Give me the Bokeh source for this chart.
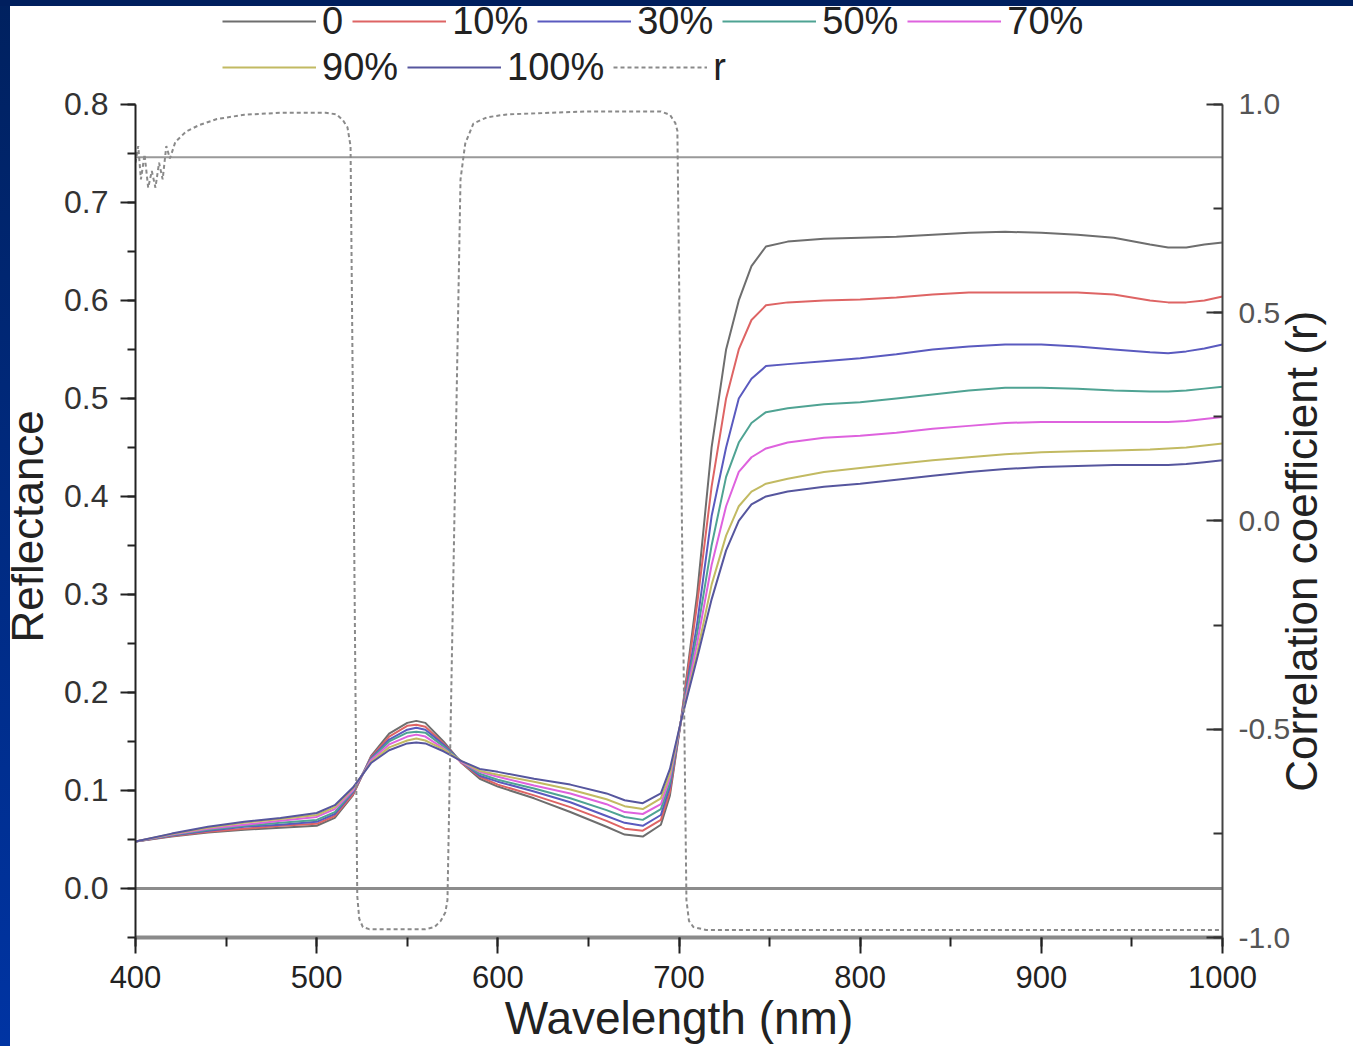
import math
from bokeh.plotting import figure
from bokeh.models import (Range1d, LinearAxis, SingleIntervalTicker, FixedTicker, PrintfTickFormatter,
                          Span, Legend, LegendItem, GlobalInlineStyleSheet)
from bokeh.embed import file_html
from bokeh.resources import INLINE

# ---------------- data ----------------
wavelength = [400, 420, 440, 460, 480, 500, 510, 520, 530, 540, 550, 555, 560, 570, 580, 590,
              600, 620, 640, 660, 670, 680, 690, 695, 701, 710, 718, 726, 733, 740, 748, 760,
              780, 800, 820, 840, 860, 880, 900, 920, 940, 960, 970, 980, 990, 1000]

refl_0 = [0.048, 0.053, 0.057, 0.060, 0.062, 0.064, 0.072, 0.095, 0.135, 0.158, 0.169,
          0.171, 0.169, 0.150, 0.128, 0.112, 0.104, 0.092, 0.078, 0.063, 0.055,
          0.053, 0.065, 0.095, 0.170, 0.300, 0.450, 0.550, 0.600, 0.635, 0.655,
          0.660, 0.663, 0.664, 0.665, 0.667, 0.669, 0.670, 0.669, 0.667, 0.664,
          0.657, 0.654, 0.654, 0.657, 0.659]
refl_10 = [0.048, 0.0535, 0.058, 0.061, 0.064, 0.066, 0.074, 0.096, 0.134, 0.155, 0.166,
           0.167, 0.165, 0.148, 0.128, 0.114, 0.106, 0.095, 0.083, 0.069, 0.061,
           0.059, 0.070, 0.099, 0.170, 0.290, 0.410, 0.500, 0.550, 0.580, 0.595,
           0.598, 0.600, 0.601, 0.603, 0.606, 0.608, 0.608, 0.608, 0.608, 0.606,
           0.600, 0.598, 0.598, 0.600, 0.604]
refl_30 = [0.048, 0.054, 0.059, 0.063, 0.065, 0.068, 0.076, 0.098, 0.133, 0.152, 0.162,
           0.164, 0.162, 0.147, 0.129, 0.115, 0.109, 0.099, 0.088, 0.074, 0.067,
           0.064, 0.075, 0.104, 0.170, 0.270, 0.380, 0.450, 0.500, 0.520, 0.533,
           0.535, 0.538, 0.541, 0.545, 0.550, 0.553, 0.555, 0.555, 0.553, 0.550,
           0.547, 0.546, 0.548, 0.551, 0.555]
refl_50 = [0.048, 0.0545, 0.060, 0.064, 0.067, 0.070, 0.078, 0.099, 0.132, 0.150, 0.159,
           0.160, 0.159, 0.145, 0.129, 0.117, 0.111, 0.102, 0.092, 0.080, 0.073,
           0.070, 0.081, 0.108, 0.170, 0.260, 0.350, 0.420, 0.455, 0.475, 0.486,
           0.490, 0.494, 0.496, 0.500, 0.504, 0.508, 0.511, 0.511, 0.510, 0.508,
           0.507, 0.507, 0.508, 0.510, 0.512]
refl_70 = [0.048, 0.055, 0.061, 0.065, 0.069, 0.073, 0.081, 0.100, 0.131, 0.147, 0.155,
           0.157, 0.155, 0.143, 0.129, 0.119, 0.114, 0.105, 0.097, 0.086, 0.078,
           0.076, 0.086, 0.113, 0.170, 0.250, 0.330, 0.390, 0.425, 0.440, 0.449,
           0.455, 0.460, 0.462, 0.465, 0.469, 0.472, 0.475, 0.476, 0.476, 0.476,
           0.476, 0.476, 0.477, 0.479, 0.481]
refl_90 = [0.048, 0.0555, 0.062, 0.067, 0.071, 0.075, 0.083, 0.102, 0.129, 0.144, 0.151,
           0.153, 0.151, 0.142, 0.130, 0.120, 0.116, 0.109, 0.101, 0.091, 0.084,
           0.081, 0.092, 0.117, 0.170, 0.240, 0.310, 0.360, 0.390, 0.405, 0.413,
           0.418, 0.425, 0.429, 0.433, 0.437, 0.440, 0.443, 0.445, 0.446, 0.447,
           0.448, 0.449, 0.450, 0.452, 0.454]
refl_100 = [0.048, 0.056, 0.063, 0.068, 0.072, 0.077, 0.085, 0.103, 0.128, 0.141, 0.148,
            0.149, 0.148, 0.140, 0.130, 0.122, 0.119, 0.112, 0.106, 0.097, 0.090,
            0.087, 0.097, 0.122, 0.170, 0.235, 0.295, 0.345, 0.375, 0.392, 0.400,
            0.405, 0.410, 0.413, 0.417, 0.421, 0.425, 0.428, 0.430, 0.431, 0.432,
            0.432, 0.432, 0.433, 0.435, 0.437]

series_labels = ["0", "10%", "30%", "50%", "70%", "90%", "100%"]
series_values = [refl_0, refl_10, refl_30, refl_50, refl_70, refl_90, refl_100]
series_colors = ["#6e6e6e", "#de6464", "#5a5abf", "#4fa393", "#de62de", "#c2ba62", "#56569e"]

r_wavelength = [400, 401.5, 403, 405, 407, 409, 411, 413, 415, 417,
                419, 422, 428, 435, 445, 460, 480, 505, 511, 514.5,
                517, 518.7, 520.6, 522.4, 523.5, 525.5, 529, 560, 565, 568.5,
                571, 572.2, 574, 576, 578, 579.4, 582, 586.5, 594, 605,
                650, 690, 695, 698, 699.1, 701.6, 704.1, 705.5, 708, 715, 1000]
r_values = [0.86, 0.90, 0.82, 0.88, 0.80, 0.84, 0.80, 0.86, 0.82, 0.90,
            0.87, 0.91, 0.935, 0.95, 0.965, 0.975, 0.98, 0.98, 0.976, 0.962,
            0.945, 0.90, 0.0, -0.90, -0.955, -0.975, -0.98, -0.98, -0.975, -0.96,
            -0.94, -0.91, -0.48, 0.0, 0.48, 0.82, 0.906, 0.954, 0.969, 0.976,
            0.983, 0.983, 0.975, 0.955, 0.937, 0.0, -0.91, -0.96, -0.975, -0.982, -0.982]
r_label = "r"
r_threshold = 0.873
reflectance_zero = 0.0

x_title = "Wavelength (nm)"
y_title = "Reflectance"
r_title = "Correlation coefficient (r)"

# axis extents (the plotting frame also holds the legend strip above the axes)
refl_bounds = (-0.05, 0.8)
r_bounds = (-1.0, 1.0)
refl_view = (-0.05, 0.906)
r_view = (-1.0, 1.2494)
y_title_center = [0.3695]
r_title_start = [-0.65]

FONT = "Liberation Sans"

# ---------------- figure ----------------
p = figure(width=1353, height=1046, output_backend="svg", toolbar_location=None,
           x_range=Range1d(400, 1000), y_range=Range1d(*refl_view),
           min_border_left=135, min_border_right=131, min_border_top=0, min_border_bottom=108,
           x_axis_label=x_title)
p.extra_y_ranges = {"r": Range1d(*r_view)}
p.grid.visible = False
p.outline_line_color = None
p.background_fill_alpha = 0.0
p.border_fill_alpha = 0.0
p.stylesheets = [GlobalInlineStyleSheet(css="""
html {
  background:
    linear-gradient(#001f5e, #001f5e) 0 0 / 100% 6px no-repeat,
    linear-gradient(#00215f, #0034a3) 0 0 / 10px 100% no-repeat,
    #ffffff;
  min-height: 100%;
}
""")]

# left axis (numbers)
ya = p.yaxis[0]
ya.bounds = refl_bounds
ya.ticker = SingleIntervalTicker(interval=0.1, num_minor_ticks=2)
ya.formatter = PrintfTickFormatter(format="%.1f")
ya.axis_line_color = "#222222"
ya.axis_line_width = 2
ya.major_tick_line_color = "#222222"
ya.major_tick_line_width = 2
ya.minor_tick_line_color = "#222222"
ya.minor_tick_line_width = 2
ya.major_tick_out = 15
ya.major_tick_in = 0
ya.minor_tick_out = 8
ya.minor_tick_in = 0
ya.major_label_standoff = 12
ya.major_label_text_font = FONT
ya.major_label_text_font_size = "32px"
ya.major_label_text_color = "#333333"

# left axis title
lt = LinearAxis(ticker=FixedTicker(ticks=y_title_center),
                formatter=PrintfTickFormatter(format=y_title))
lt.axis_line_color = None
lt.major_tick_line_color = None
lt.minor_tick_line_color = None
lt.major_tick_in = 0
lt.major_tick_out = 0
lt.minor_tick_in = 0
lt.minor_tick_out = 0
lt.major_label_orientation = "parallel"
lt.major_label_standoff = 9
lt.major_label_text_font = FONT
lt.major_label_text_font_size = "44px"
lt.major_label_text_color = "#222222"
p.add_layout(lt, "left")

# bottom axis
xa = p.xaxis[0]
xa.ticker = SingleIntervalTicker(interval=100, num_minor_ticks=2)
xa.axis_line_color = "#8a8a8a"
xa.axis_line_width = 4
xa.major_tick_line_color = "#222222"
xa.major_tick_line_width = 2
xa.minor_tick_line_color = "#222222"
xa.minor_tick_line_width = 2
xa.major_tick_out = 16
xa.major_tick_in = 0
xa.minor_tick_out = 9
xa.minor_tick_in = 0
xa.major_label_standoff = 12
xa.major_label_text_font = FONT
xa.major_label_text_font_size = "31px"
xa.major_label_text_color = "#222222"
xa.axis_label_standoff = 1
xa.axis_label_text_font = FONT
xa.axis_label_text_font_size = "46px"
xa.axis_label_text_font_style = "normal"
xa.axis_label_text_color = "#222222"

# right axis (numbers)
ra = LinearAxis(y_range_name="r", bounds=r_bounds,
                ticker=SingleIntervalTicker(interval=0.5, num_minor_ticks=2),
                formatter=PrintfTickFormatter(format="%.1f"))
ra.axis_line_color = "#444444"
ra.axis_line_width = 2
ra.major_tick_line_color = "#333333"
ra.major_tick_line_width = 2
ra.minor_tick_line_color = "#333333"
ra.minor_tick_line_width = 2
ra.major_tick_in = 16
ra.major_tick_out = 0
ra.minor_tick_in = 9
ra.minor_tick_out = 0
ra.major_label_standoff = 16
ra.major_label_text_font = FONT
ra.major_label_text_font_size = "30px"
ra.major_label_text_color = "#555555"
p.add_layout(ra, "right")

# right axis title, reading bottom-to-top
rt = LinearAxis(y_range_name="r", ticker=FixedTicker(ticks=r_title_start),
                formatter=PrintfTickFormatter(format=r_title))
rt.axis_line_color = None
rt.major_tick_line_color = None
rt.minor_tick_line_color = None
rt.major_tick_in = 0
rt.major_tick_out = 0
rt.minor_tick_in = 0
rt.minor_tick_out = 0
rt.major_label_orientation = math.pi / 2
rt.major_label_standoff = 8
rt.major_label_text_font = FONT
rt.major_label_text_font_size = "44px"
rt.major_label_text_color = "#222222"
p.add_layout(rt, "right")

# reference lines
p.add_layout(Span(location=reflectance_zero, dimension="width", line_color="#8c8c8c",
                  line_width=3, level="underlay"))
p.add_layout(Span(location=r_threshold, dimension="width", y_range_name="r",
                  line_color="#999999", line_width=2, level="underlay"))

# spectra
renderers = []
for lab, vals, col in zip(series_labels, series_values, series_colors):
    renderers.append(p.line(wavelength, vals, line_color=col, line_width=2))

r_renderer = p.line(r_wavelength, r_values, y_range_name="r", line_color="#8a8a8a",
                    line_width=2, line_dash="4 3")

# legends (two rows, in the strip above the axes)
def make_legend(items, loc):
    lg = Legend(items=items, location=loc, orientation="horizontal")
    lg.padding = 0
    lg.margin = 0
    lg.spacing = 9
    lg.glyph_width = 94
    lg.glyph_height = 44
    lg.label_height = 44
    lg.label_standoff = 6
    lg.label_text_font = FONT
    lg.label_text_font_size = "38px"
    lg.label_text_color = "#222222"
    lg.background_fill_alpha = 0
    lg.border_line_alpha = 0
    return lg

row1 = [LegendItem(label=series_labels[i], renderers=[renderers[i]]) for i in range(5)]
row2 = [LegendItem(label=series_labels[i], renderers=[renderers[i]]) for i in range(5, 7)]
row2.append(LegendItem(label=r_label, renderers=[r_renderer]))

p.add_layout(make_legend(row1, (87, 894)))
p.add_layout(make_legend(row2, (87, 848)))

open("out.html", "w").write(file_html(p, INLINE))
